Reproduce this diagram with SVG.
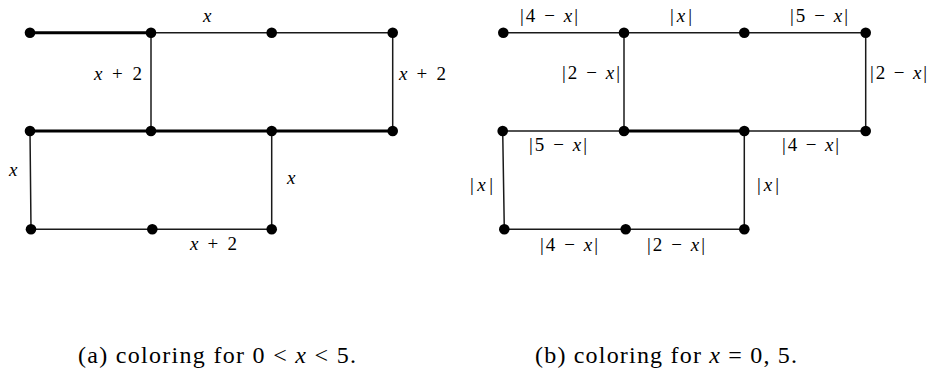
<svg xmlns="http://www.w3.org/2000/svg" width="931" height="371" viewBox="0 0 931 371">
<style>
.e{stroke:#1a1a1a;stroke-width:1.5;fill:none;stroke-linecap:round}
.t{stroke:#000;stroke-width:3;fill:none;stroke-linecap:round}
.n{fill:#000}
.i{font-style:italic}
text{font-family:'Liberation Serif','Times New Roman',serif;fill:#000}
</style>
<rect width="931" height="371" fill="#fff"/>
<g id="connectors">
<line class="t" x1="30" y1="32.7" x2="151" y2="32.7"/>
<line class="e" x1="151" y1="32.7" x2="271.7" y2="32.7"/>
<line class="e" x1="271.7" y1="32.7" x2="392.7" y2="32.7"/>
<line class="e" x1="151" y1="32.7" x2="151" y2="131"/>
<line class="e" x1="392.7" y1="32.7" x2="392.7" y2="131"/>
<line class="t" x1="30" y1="131" x2="151" y2="131"/>
<line class="t" x1="151" y1="131" x2="271.7" y2="131"/>
<line class="t" x1="271.7" y1="131" x2="392.7" y2="131"/>
<line class="e" x1="30" y1="131" x2="31" y2="229.3"/>
<line class="e" x1="271.7" y1="131" x2="271.7" y2="229.3"/>
<line class="e" x1="31" y1="229.3" x2="152.3" y2="229.3"/>
<line class="e" x1="152.3" y1="229.3" x2="271.7" y2="229.3"/>
<line class="e" x1="503.3" y1="32.7" x2="624" y2="32.7"/>
<line class="e" x1="624" y1="32.7" x2="744.3" y2="32.7"/>
<line class="e" x1="744.3" y1="32.7" x2="865.7" y2="32.7"/>
<line class="e" x1="624" y1="32.7" x2="624" y2="131"/>
<line class="e" x1="865.7" y1="32.7" x2="865.7" y2="131"/>
<line class="e" x1="502.7" y1="131" x2="624" y2="131"/>
<line class="t" x1="624" y1="131" x2="744.3" y2="131"/>
<line class="e" x1="744.3" y1="131" x2="865.7" y2="131"/>
<line class="e" x1="502.7" y1="131" x2="504.3" y2="229.3"/>
<line class="e" x1="744.3" y1="131" x2="744.3" y2="229.3"/>
<line class="e" x1="504.3" y1="229.3" x2="625.7" y2="229.3"/>
<line class="e" x1="625.7" y1="229.3" x2="744.3" y2="229.3"/>
</g>
<g id="a1"><circle class="n" cx="30" cy="32.7" r="5.3"/></g>
<g id="a2"><circle class="n" cx="151" cy="32.7" r="5.3"/></g>
<g id="a3"><circle class="n" cx="271.7" cy="32.7" r="5.3"/></g>
<g id="a4"><circle class="n" cx="392.7" cy="32.7" r="5.3"/></g>
<g id="b1"><circle class="n" cx="30" cy="131" r="5.3"/></g>
<g id="b2"><circle class="n" cx="151" cy="131" r="5.3"/></g>
<g id="b3"><circle class="n" cx="271.7" cy="131" r="5.3"/></g>
<g id="b4"><circle class="n" cx="392.7" cy="131" r="5.3"/></g>
<g id="c1"><circle class="n" cx="31" cy="229.3" r="5.3"/></g>
<g id="c2"><circle class="n" cx="152.3" cy="229.3" r="5.3"/></g>
<g id="c3"><circle class="n" cx="271.7" cy="229.3" r="5.3"/></g>
<g id="d1"><circle class="n" cx="503.3" cy="32.7" r="5.3"/></g>
<g id="d2"><circle class="n" cx="624" cy="32.7" r="5.3"/></g>
<g id="d3"><circle class="n" cx="744.3" cy="32.7" r="5.3"/></g>
<g id="d4"><circle class="n" cx="865.7" cy="32.7" r="5.3"/></g>
<g id="e1"><circle class="n" cx="502.7" cy="131" r="5.3"/></g>
<g id="e2"><circle class="n" cx="624" cy="131" r="5.3"/></g>
<g id="e3"><circle class="n" cx="744.3" cy="131" r="5.3"/></g>
<g id="e4"><circle class="n" cx="865.7" cy="131" r="5.3"/></g>
<g id="f1"><circle class="n" cx="504.3" cy="229.3" r="5.3"/></g>
<g id="f2"><circle class="n" cx="625.7" cy="229.3" r="5.3"/></g>
<g id="f3"><circle class="n" cx="744.3" cy="229.3" r="5.3"/></g>
<g id="labels-a" font-size="19">
<text x="203" y="22"><tspan class="i">x</tspan></text>
<text x="94" y="80" textLength="48" lengthAdjust="spacing"><tspan class="i">x</tspan> + 2</text>
<text x="399" y="80" textLength="47" lengthAdjust="spacing"><tspan class="i">x</tspan> + 2</text>
<text x="9" y="176"><tspan class="i">x</tspan></text>
<text x="287" y="184"><tspan class="i">x</tspan></text>
<text x="190" y="250" textLength="47" lengthAdjust="spacing"><tspan class="i">x</tspan> + 2</text>
</g>
<g id="labels-b" font-size="19">
<text x="520" y="22" textLength="58" lengthAdjust="spacing">|4 − <tspan class="i">x</tspan>|</text>
<text x="670" y="22" textLength="22" lengthAdjust="spacing">|<tspan class="i">x</tspan>|</text>
<text x="790" y="22" textLength="58" lengthAdjust="spacing">|5 − <tspan class="i">x</tspan>|</text>
<text x="562" y="79" textLength="58" lengthAdjust="spacing">|2 − <tspan class="i">x</tspan>|</text>
<text x="870" y="79" textLength="57" lengthAdjust="spacing">|2 − <tspan class="i">x</tspan>|</text>
<text x="529" y="151" textLength="58" lengthAdjust="spacing">|5 − <tspan class="i">x</tspan>|</text>
<text x="782" y="151" textLength="57" lengthAdjust="spacing">|4 − <tspan class="i">x</tspan>|</text>
<text x="470" y="191" textLength="23" lengthAdjust="spacing">|<tspan class="i">x</tspan>|</text>
<text x="757" y="191" textLength="22" lengthAdjust="spacing">|<tspan class="i">x</tspan>|</text>
<text x="540" y="251" textLength="58" lengthAdjust="spacing">|4 − <tspan class="i">x</tspan>|</text>
<text x="647" y="251" textLength="58" lengthAdjust="spacing">|2 − <tspan class="i">x</tspan>|</text>
</g>
<g id="captions" font-size="24">
<text x="78" y="363" textLength="278" lengthAdjust="spacing">(a) coloring for 0 &lt; <tspan class="i">x</tspan> &lt; 5.</text>
<text x="535" y="363" textLength="262" lengthAdjust="spacing">(b) coloring for <tspan class="i">x</tspan> = 0, 5.</text>
</g>
</svg>
